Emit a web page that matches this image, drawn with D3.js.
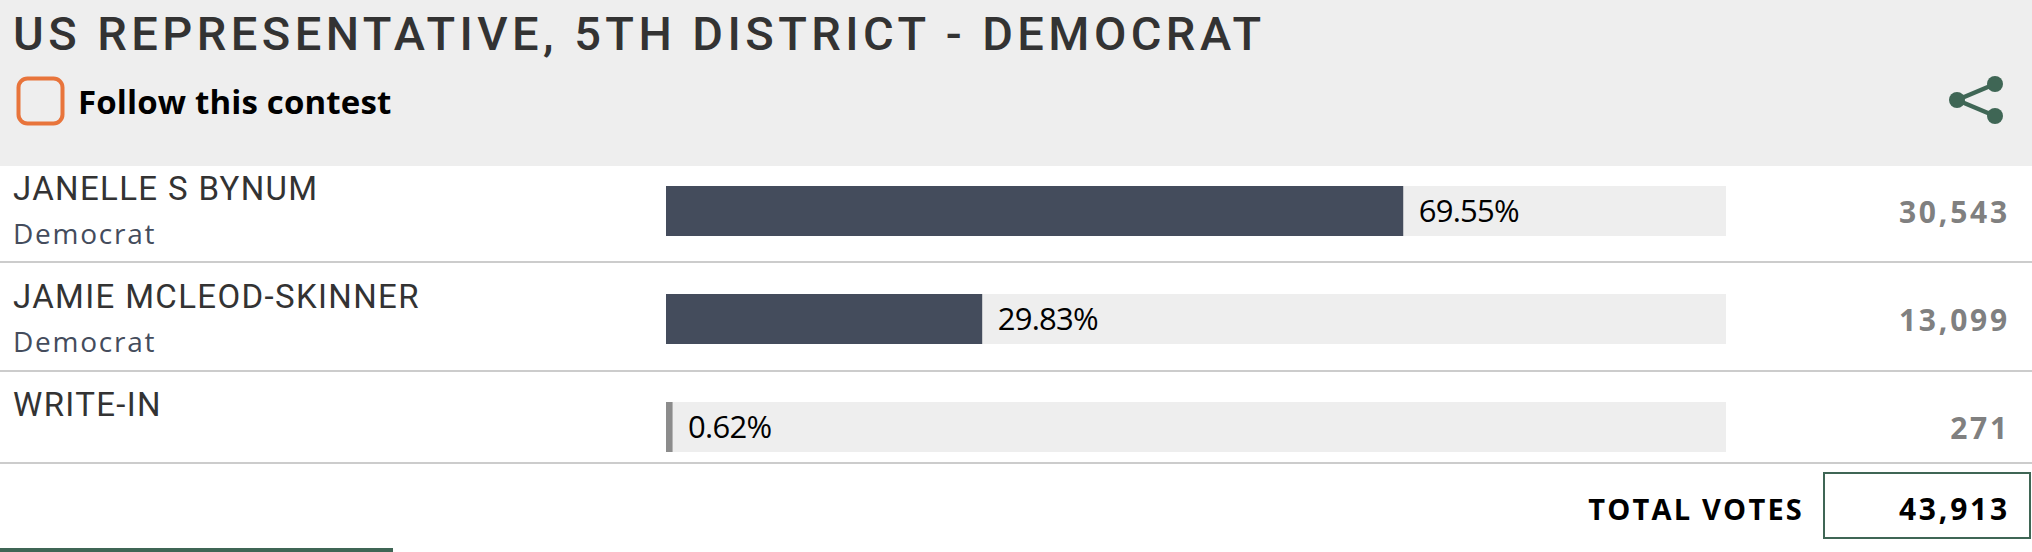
<!DOCTYPE html>
<html><head><meta charset="utf-8">
<script src="https://cdn.jsdelivr.net/npm/d3@7/dist/d3.min.js"></script>
<style>html,body{margin:0;padding:0;background:#fff;overflow:hidden}svg{display:block}</style>
</head><body>
<svg id="c" width="2032" height="552"></svg>
<script>
const titleText = "US REPRESENTATIVE, 5TH DISTRICT - DEMOCRAT";
const followText = "Follow this contest";
const candidates = ["JANELLE S BYNUM","JAMIE MCLEOD-SKINNER","WRITE-IN"];
const parties = ["Democrat","Democrat",""];
const percents = [69.55,29.83,0.62];
const votes = [30543,13099,271];
const barColors = ["#444c5c","#444c5c","#8c8c8c"];
const totalLabel = "TOTAL VOTES";
const totalVotes = 43913;

const svg = d3.select("#c");
const x = d3.scaleLinear().domain([0,100]).range([666,1726]);
const rowTops = [166,274,382];
const rowLines = [262,371,463];
const barTops = [186,294,402];
const fmt = d3.format(",");

svg.append("rect").attr("width",2032).attr("height",166).attr("fill","#eeeeee");
svg.append("text").attr("x",13).attr("y",50).text(titleText)
  .style("font","500 47px Roboto").style("letter-spacing","4.45px").attr("fill","#333333");

svg.append("rect").attr("x",18.5).attr("y",78.5).attr("width",44).attr("height",45).attr("rx",9)
  .attr("fill","none").attr("stroke","#e8743b").attr("stroke-width",4);
svg.append("text").attr("x",78).attr("y",114).text(followText)
  .style("font","700 33px 'Open Sans'").style("letter-spacing","0.15px").attr("fill","#000");

const share = svg.append("g").attr("fill","#3f6655").attr("stroke","#3f6655");
[[1957,100,1995,84],[1957,100,1995,116]].forEach(d=>share.append("line")
  .attr("x1",d[0]).attr("y1",d[1]).attr("x2",d[2]).attr("y2",d[3]).attr("stroke-width",4.5));
[[1957,100],[1995,84],[1995,116]].forEach(d=>share.append("circle")
  .attr("cx",d[0]).attr("cy",d[1]).attr("r",8).attr("stroke","none"));

const rows = svg.selectAll("g.row").data(candidates).join("g").attr("class","row");
rows.append("text").attr("x",13).attr("y",(d,i)=>rowTops[i]+34).text(d=>d)
  .style("font","400 33px Roboto").style("letter-spacing","1.35px").attr("fill","#333333");
rows.append("text").attr("x",13).attr("y",(d,i)=>rowTops[i]+78).text((d,i)=>parties[i])
  .style("font","400 28px 'Open Sans'").style("letter-spacing","1.75px").attr("fill","#444c5c");
rows.append("rect").attr("x",x(0)).attr("y",(d,i)=>barTops[i]).attr("width",x(100)-x(0)).attr("height",50).attr("fill","#eeeeee");
rows.append("rect").attr("x",x(0)).attr("y",(d,i)=>barTops[i]).attr("width",(d,i)=>x(percents[i])-x(0)).attr("height",50).attr("fill",(d,i)=>barColors[i]);
rows.append("text").attr("x",(d,i)=>x(percents[i])+15.5).attr("y",(d,i)=>barTops[i]+36).text((d,i)=>percents[i].toFixed(2)+"%")
  .style("font","400 31px 'Open Sans'").style("letter-spacing","-0.75px").attr("fill","#000");
rows.append("text").attr("x",2010).attr("y",(d,i)=>barTops[i]+37).attr("text-anchor","end").text((d,i)=>fmt(votes[i]))
  .style("font","700 30px 'Open Sans'").style("letter-spacing","2.8px").attr("fill","#808080");
svg.selectAll("line.rule").data(rowLines).join("line").attr("class","rule")
  .attr("x1",0).attr("x2",2032).attr("y1",d=>d).attr("y2",d=>d).attr("stroke","#cccccc").attr("stroke-width",2);

svg.append("rect").attr("x",1824).attr("y",473).attr("width",206).attr("height",65)
  .attr("fill","#fff").attr("stroke","#3f6655").attr("stroke-width",2);
svg.append("text").attr("x",1804).attr("y",520).attr("text-anchor","end").text(totalLabel)
  .style("font","700 29px 'Open Sans'").style("letter-spacing","2.2px").attr("fill","#000");
svg.append("text").attr("x",2010).attr("y",520).attr("text-anchor","end").text(fmt(totalVotes))
  .style("font","700 30px 'Open Sans'").style("letter-spacing","2.8px").attr("fill","#000");
svg.append("rect").attr("x",0).attr("y",548).attr("width",393).attr("height",4).attr("fill","#3f6655");
</script>
</body></html>
